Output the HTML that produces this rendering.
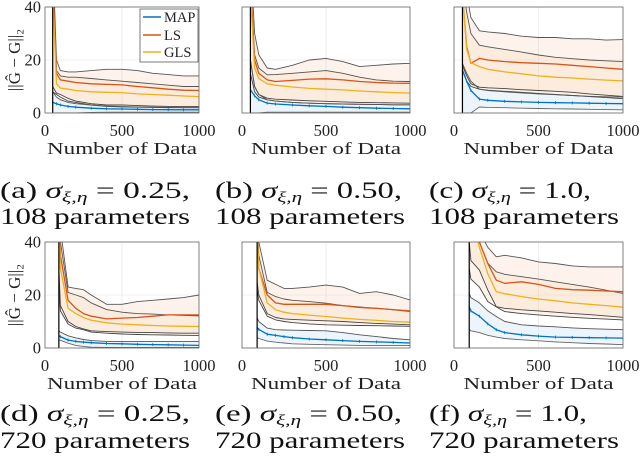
<!DOCTYPE html>
<html><head><meta charset="utf-8">
<style>
html,body{margin:0;padding:0;background:#fff;font-family:"Liberation Serif","DejaVu Serif",serif;}
svg{display:block;}
svg text{font-family:"Liberation Serif","DejaVu Serif",serif;}
</style></head>
<body>
<svg id="fig" width="640" height="464" viewBox="0 0 640 464" xmlns="http://www.w3.org/2000/svg">
  <defs id="defs"></defs>
  <g id="plots"></g>
  <g font-size="23" fill="#111">
    <text x="0" y="198" textLength="190" lengthAdjust="spacingAndGlyphs">(a) <tspan font-style="italic">σ</tspan><tspan font-style="italic" font-size="15" dy="4">ξ,η</tspan><tspan dy="-4"> = 0.25,</tspan></text>
    <text x="0" y="224" textLength="190" lengthAdjust="spacingAndGlyphs">108 parameters</text>
    <text x="215" y="198" textLength="187" lengthAdjust="spacingAndGlyphs">(b) <tspan font-style="italic">σ</tspan><tspan font-style="italic" font-size="15" dy="4">ξ,η</tspan><tspan dy="-4"> = 0.50,</tspan></text>
    <text x="215" y="224" textLength="190" lengthAdjust="spacingAndGlyphs">108 parameters</text>
    <text x="429" y="198" textLength="162" lengthAdjust="spacingAndGlyphs">(c) <tspan font-style="italic">σ</tspan><tspan font-style="italic" font-size="15" dy="4">ξ,η</tspan><tspan dy="-4"> = 1.0,</tspan></text>
    <text x="429" y="224" textLength="190" lengthAdjust="spacingAndGlyphs">108 parameters</text>
    <text x="0" y="421" textLength="190" lengthAdjust="spacingAndGlyphs">(d) <tspan font-style="italic">σ</tspan><tspan font-style="italic" font-size="15" dy="4">ξ,η</tspan><tspan dy="-4"> = 0.25,</tspan></text>
    <text x="0" y="448" textLength="190" lengthAdjust="spacingAndGlyphs">720 parameters</text>
    <text x="215" y="421" textLength="187" lengthAdjust="spacingAndGlyphs">(e) <tspan font-style="italic">σ</tspan><tspan font-style="italic" font-size="15" dy="4">ξ,η</tspan><tspan dy="-4"> = 0.50,</tspan></text>
    <text x="215" y="448" textLength="190" lengthAdjust="spacingAndGlyphs">720 parameters</text>
    <text x="429" y="421" textLength="158" lengthAdjust="spacingAndGlyphs">(f) <tspan font-style="italic">σ</tspan><tspan font-style="italic" font-size="15" dy="4">ξ,η</tspan><tspan dy="-4"> = 1.0,</tspan></text>
    <text x="429" y="448" textLength="190" lengthAdjust="spacingAndGlyphs">720 parameters</text>
  </g>
</svg>
<script>
// ---- data ----
const nTop = [50,75,100,150,200,300,400,500,600,700,800,900,1000];
const nBot = [90,100,150,200,250,300,400,500,600,700,800,900,1000];
const xTicks = [0,500,1000];
const yTicks = [0,20,40];

// panel a
const aLsHi  = [60,20,16,15.5,15.5,16,16.5,16.5,16,15,14.5,14,14];
const aGlsHi = [50,16,14,13.5,13.5,13,12.5,12,11.5,11,10.5,10,10];
const aLs    = [50,15,12.5,12,11.5,11,10.8,10.6,10,9.5,9,8.6,8.5];
const aGls   = [45,11,9.4,9,8.5,8,7.8,7.7,7.2,7,6.7,6.4,6.2];
const aGlsLo = [10,7.5,7,5.5,4.5,3.5,3,3,2.8,2.6,2.5,2.5,2.5];
const aLsLo  = [8,7,6,4.5,4,3,2.5,2.3,2.2,2.1,2,2,2];
const aMapHi = [8,6,5,4,3.5,3,2.6,2.4,2.3,2.2,2.1,2,2];
const aMap   = [4,3.5,3,2.5,2.2,1.8,1.6,1.5,1.4,1.3,1.25,1.2,1.2];
const aMapLo = [0,0,0,0,0,0.2,0.3,0.3,0.3,0.3,0.3,0.3,0.3];
// panel b
const bLsHi  = [60,30,22,17,16.5,18,20,20.6,19.4,17.5,18,18.5,18.75];
const bGlsHi = [50,22,17,14.4,14.5,15,15.5,16,15,13.5,12.5,12,11.9];
const bLs    = [50,20,15,12.5,11.9,12.3,12.8,12.9,12.5,11.9,11.5,11.3,11.2];
const bGls   = [45,17,13,11,10.5,9.8,9.3,9,8.7,8.3,8,7.7,7.5];
const bGlsLo = [20,10,7,5.6,5.2,4.9,4.6,4.4,4.2,4,3.9,3.8,3.7];
const bLsLo  = [15,8,6,5,4.5,4,3.7,3.5,3.4,3.3,3.2,3.1,3.1];
const bMapHi = [20,10,7,5,4.5,4,3.7,3.5,3.4,3.3,3.2,3.1,3.1];
const bMap   = [8.75,6.5,5,3.75,3.4,3,2.7,2.5,2.2,2,1.8,1.7,1.6];
const bMapLo = [0,0,0,0.3,0.3,0.3,0.3,0.3,0.3,0.3,0.3,0.3,0.3];
// panel c
const cLsHi  = [60,45,36,31,30.6,30,29,28.5,28.5,28,28,27.5,27.7];
const cGlsHi = [50,38,30,25.6,25,24,23,21.9,21,20.5,20,19.7,19.4];
const cLs    = [45,25,18.75,20.6,20,19.4,19,18.75,18.5,18,17.5,17,16.5];
const cGls   = [45,24,19,17.5,16.5,15.5,14.8,14,13.5,13.2,12.8,12.4,12.1];
const cGlsLo = [18,14,11,9.75,9.5,9.2,8.8,8.5,8.2,7.8,7.2,6.7,6.25];
const cLsLo  = [16,12,10,9,8.6,8.2,7.8,7.4,7,6.6,6.2,5.8,5.4];
const cMapHi = [18.75,15,12,9,8.5,8,7.6,7.2,6.9,6.6,6.3,6.1,6];
const cMap   = [16.25,12,8.5,5.25,4.8,4.4,4.2,4,3.9,3.8,3.7,3.6,3.5];
const cMapLo = [0,0,0,2.25,2.1,2,1.8,1.7,1.6,1.5,1.4,1.3,1.2];
// panel d
const dLsHi  = [60,45,23,22.5,22,20,16.5,16.5,17.5,18,18.5,19,20];
const dGlsHi = [50,40,21,20,19,17,14.5,13.5,13,12.8,12.5,12.3,12.1];
const dLs    = [50,35,18,15,13,12,11,11.3,11.5,12,12.5,12.5,12.5];
const dGls   = [48,30,15,13,11.5,10.5,9.5,9,8.75,8.5,8.3,8.2,8.1];
const dGlsLo = [30,16,10,8.1,7.2,6.5,6.2,6,5.9,5.8,5.7,5.6,5.6];
const dLsLo  = [25,14,9,7.5,6.9,6,5.6,5.3,5.1,5,4.9,4.8,4.75];
const dMapHi = [6.5,6,4.6,3.8,3.2,2.8,2.5,2.5,2.5,2.5,2.5,2.5,2.5];
const dMap   = [4.6,4.3,3,2.5,2.2,2,1.7,1.6,1.4,1.3,1.2,1.1,1];
const dMapLo = [3.1,2.9,1.8,1,0.6,0.3,0.2,0.2,0.2,0.2,0.2,0.2,0.2];
// panel e
const eLsHi  = [60,40,25.6,24,22.5,22.5,23,23.75,23,20.6,21.25,20,18.1];
const eGlsHi = [50,35,21,19.4,18.5,18,17.5,16.9,16,15.5,15,14.4,13.75];
const eLs    = [45,30,20,17,16.5,16.5,16.5,16.5,16,15.3,15,14.5,14];
const eGls   = [45,30,17,14.4,13.5,13,12.4,11.9,11.3,10.8,10.4,10,9.75];
const eGlsLo = [25,20,13,11.5,11,10.8,10.5,10.25,10,9.6,9.3,9,8.75];
const eLsLo  = [22,18,12,10.6,10,9.6,9.1,8.75,8.6,8.5,8.4,8.3,8.2];
const eMapHi = [11.5,10,7.5,6.9,6.8,6.7,6.6,6.5,5.8,5,4.3,3.6,3.1];
const eMap   = [7.75,7,5.2,4.75,4.3,3.9,3.4,3.1,2.8,2.5,2.3,2.1,1.9];
const eMapLo = [4,3.6,2.6,2.2,1.9,1.6,1.4,1.25,1.1,1,1,0.9,0.9];
// panel f
const fLsHi  = [60,55,44,38,34.4,35,34,32.5,31.9,31,30.6,30.6,30.6];
const fGlsHi = [55,50,40,32,28.75,27.8,26.9,26,25,24,23,21.8,20.6];
const fLs    = [55,50,40,31.9,25.6,24.4,25,24,22.5,22,21.8,21.5,21.25];
const fGls   = [55,50,38,28,21.25,20.5,19.4,18.5,17.8,17,16.5,16,15.4];
const fGlsLo = [40,33,29.4,21.9,15.6,15,14.4,14,13.5,13,12.6,12.1,11.6];
const fLsLo  = [30,26,23,17.5,15.5,13.75,13,12.5,12,11.6,11.2,10.9,10.6];
const fMapHi = [20.6,19,17,14,11.9,10,8.75,8.3,8,7.6,7.3,7.1,6.9];
const fMap   = [15.6,14,12,9.1,6.9,5.8,5,4.5,4.1,4,3.9,3.8,3.75];
const fMapLo = [7.1,6.5,5.8,4.8,4.1,3.6,3.1,2.7,2.3,2,1.7,1.5,1.25];

const panels = [
  {id:'a', x0:45, x1:199, y0:7,   y1:113, n:nTop, lsHi:aLsHi, glsHi:aGlsHi, ls:aLs, gls:aGls, glsLo:aGlsLo, lsLo:aLsLo, mapHi:aMapHi, map:aMap, mapLo:aMapLo, ylab:true, legend:true},
  {id:'b', x0:242,x1:410, y0:7,   y1:113, n:nTop, lsHi:bLsHi, glsHi:bGlsHi, ls:bLs, gls:bGls, glsLo:bGlsLo, lsLo:bLsLo, mapHi:bMapHi, map:bMap, mapLo:bMapLo},
  {id:'c', x0:454,x1:623, y0:7,   y1:113, n:nTop, lsHi:cLsHi, glsHi:cGlsHi, ls:cLs, gls:cGls, glsLo:cGlsLo, lsLo:cLsLo, mapHi:cMapHi, map:cMap, mapLo:cMapLo},
  {id:'d', x0:45, x1:199, y0:242, y1:348, n:nBot, lsHi:dLsHi, glsHi:dGlsHi, ls:dLs, gls:dGls, glsLo:dGlsLo, lsLo:dLsLo, mapHi:dMapHi, map:dMap, mapLo:dMapLo, ylab:true},
  {id:'e', x0:242,x1:410, y0:242, y1:348, n:nBot, lsHi:eLsHi, glsHi:eGlsHi, ls:eLs, gls:eGls, glsLo:eGlsLo, lsLo:eLsLo, mapHi:eMapHi, map:eMap, mapLo:eMapLo},
  {id:'f', x0:454,x1:623, y0:242, y1:348, n:nBot, lsHi:fLsHi, glsHi:fGlsHi, ls:fLs, gls:fGls, glsLo:fGlsLo, lsLo:fLsLo, mapHi:fMapHi, map:fMap, mapLo:fMapLo}
];

const NS = 'http://www.w3.org/2000/svg';
function mk(tag, attrs, parent){
  const e = document.createElementNS(NS, tag);
  for (const k in attrs) e.setAttribute(k, attrs[k]);
  parent.appendChild(e);
  return e;
}
const root = document.getElementById('plots');
const defs = document.getElementById('defs');
const SERIF = '"Liberation Serif", "DejaVu Serif", serif';

panels.forEach(p => {
  const xs = v => p.x0 + (v/1000)*(p.x1-p.x0);
  const ys = v => p.y1 - (v/40)*(p.y1-p.y0);
  const g = mk('g', {}, root);
  
  
  const cp = mk('clipPath', {id:'clip'+p.id}, defs);
  mk('rect', {x:p.x0, y:p.y0, width:p.x1-p.x0, height:p.y1-p.y0}, cp);
  const grid = mk('g', {stroke:'#e3e3e3', 'stroke-width':0.6}, g);
  
  
  xTicks.forEach(t => mk('line', {x1:xs(t), x2:xs(t), y1:p.y0, y2:p.y1}, grid));
  yTicks.forEach(t => mk('line', {x1:p.x0, x2:p.x1, y1:ys(t), y2:ys(t)}, grid));

  const plot = mk('g', {'clip-path':'url(#clip'+p.id+')'}, g);
  
  
  const pts = arr => arr.map((v,i)=>xs(p.n[i]).toFixed(1)+','+ys(v).toFixed(1));
  const band = (hi, lo, fill, name) => {
    const d = 'M' + pts(hi).join('L') + 'L' + pts(lo).reverse().join('L') + 'Z';
    const b = mk('path', {d:d, fill:fill, stroke:'none'}, plot);
    
    
  };
  band(p.lsHi, p.lsLo, 'rgba(248,200,170,0.22)', 'ls-band-' + p.id);
  band(p.glsHi, p.glsLo, 'rgba(250,215,170,0.22)', 'gls-band-' + p.id);
  band(p.mapHi, p.mapLo, 'rgba(200,225,245,0.35)', 'map-band-' + p.id);
  const line = (arr, color, w, name) => {
    const l = mk('polyline', {points:pts(arr).join(' '), fill:'none', stroke:color, 'stroke-width':w, 'stroke-linejoin':'round'}, plot);
    
    
    return l;
  };
  line(p.lsHi, '#555', 0.9, 'ls-upper-' + p.id);
  line(p.glsHi, '#555', 0.9, 'gls-upper-' + p.id);
  line(p.glsLo, '#444', 0.9, 'gls-lower-' + p.id);
  line(p.lsLo, '#444', 0.9, 'ls-lower-' + p.id);
  line(p.mapHi, '#555', 0.9, 'map-upper-' + p.id);
  line(p.mapLo, '#666', 0.9, 'map-lower-' + p.id);
  line(p.ls, '#d95319', 1.3, 'ls-line-' + p.id);
  line(p.gls, '#edb120', 1.3, 'gls-line-' + p.id);
  line(p.map, '#0072bd', 1.3, 'map-line-' + p.id);
  p.map.forEach((v,i) => {
    const m = mk('line', {x1:xs(p.n[i]), x2:xs(p.n[i]), y1:ys(v)-1.5, y2:ys(v)+1.5, stroke:'#0072bd', 'stroke-width':0.8}, plot);
    
    
  });
  const vl = mk('line', {x1:xs(p.n[0]), x2:xs(p.n[0]), y1:p.y0, y2:p.y1, stroke:'#000', 'stroke-width':1.2}, plot);
  
  

  const fr = mk('rect', {x:p.x0, y:p.y0, width:p.x1-p.x0, height:p.y1-p.y0, fill:'none', stroke:'#666', 'stroke-width':0.8}, g);
  
  

  xTicks.forEach(t => {
    const tx = mk('text', {x:xs(t), y:p.y1+23, 'font-size':16.5, 'text-anchor':'middle', fill:'#222', 'font-family':SERIF}, g);
    tx.textContent = String(t);
    
    
  });
  const xt = mk('text', {x:(p.x0+p.x1)/2 - 75, y:p.y1+41, 'font-size':17, fill:'#222', 'font-family':SERIF, textLength:150, lengthAdjust:'spacingAndGlyphs'}, g);
  xt.textContent = 'Number of Data';
  
  

  if (p.ylab) {
    yTicks.forEach(t => {
      const ty = mk('text', {x:p.x0-4, y:ys(t)+5.5, 'font-size':16.5, 'text-anchor':'end', fill:'#222', 'font-family':SERIF}, g);
      ty.textContent = String(t);
      
      
    });
    const cy = (p.y0+p.y1)/2;
    const yt = mk('text', {x:0, y:0, 'font-size':17, 'text-anchor':'middle', fill:'#222', 'font-family':SERIF, transform:'translate(20,'+cy+') rotate(-90)'}, g);
    yt.textContent = '||Ĝ − G||₂';
    
    
  }

  if (p.legend) {
    const lg = mk('g', {}, g);
    
    
    mk('rect', {x:140, y:9, width:58, height:53, fill:'#fff', stroke:'#444', 'stroke-width':0.7}, lg);
    const items = [['MAP','#0072bd',17],['LS','#d95319',35],['GLS','#edb120',52]];
    items.forEach(it => {
      const e = mk('g', {}, lg);
      
      
      mk('line', {x1:143, x2:161, y1:it[2], y2:it[2], stroke:it[1], 'stroke-width':1.4}, e);
      const t = mk('text', {x:164, y:it[2]+5, 'font-size':14.5, fill:'#222', 'font-family':SERIF}, e);
      t.textContent = it[0];
    });
  }
});
</script>
</body></html>
